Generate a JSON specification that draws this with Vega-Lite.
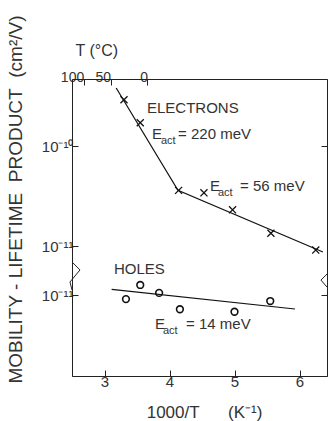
{
  "$schema": "https://vega.github.io/schema/vega-lite/v6.json",
  "width": 255,
  "height": 297,
  "autosize": "none",
  "padding": {"left": 72, "top": 79, "right": 1, "bottom": 45},
  "background": "white",
  "config": {
    "view": {"stroke": null},
    "font": "Liberation Sans",
    "axis": {
      "grid": false,
      "labelFont": "Liberation Sans",
      "titleFont": "Liberation Sans",
      "labelColor": "#333",
      "titleColor": "#333",
      "titleFontWeight": "normal",
      "domainColor": "#222",
      "tickColor": "#222",
      "domainWidth": 1,
      "tickWidth": 1
    }
  },
  "datasets": {
    "electrons": [
      {"x": 3.30, "y": 2.9e-10},
      {"x": 3.55, "y": 1.71e-10},
      {"x": 4.14, "y": 3.6e-11},
      {"x": 4.53, "y": 3.4e-11},
      {"x": 4.97, "y": 2.3e-11},
      {"x": 5.56, "y": 1.34e-11},
      {"x": 6.25, "y": 9.1e-12}
    ],
    "electronFit": [
      {"x": 3.18, "y": 3.8e-10},
      {"x": 4.13, "y": 3.6e-11},
      {"x": 6.36, "y": 8.7e-12}
    ],
    "holes": [
      {"x": 3.33, "y": 9.1e-12},
      {"x": 3.55, "y": 1.26e-11},
      {"x": 3.84, "y": 1.05e-11},
      {"x": 4.16, "y": 7.2e-12},
      {"x": 5.0, "y": 6.8e-12},
      {"x": 5.55, "y": 8.7e-12}
    ],
    "holeFit": [
      {"x": 3.11, "y": 1.14e-11},
      {"x": 5.93, "y": 7.24e-12}
    ],
    "electronLabels": [
      {"text": "ELECTRONS", "x": 3.654, "y": 2.4e-10, "role": "main"},
      {"text": "E", "x": 3.731, "y": 1.32e-10, "role": "main"},
      {"text": "act", "x": 3.869, "y": 1.12e-10, "role": "sub"},
      {"text": "= 220 meV", "x": 4.131, "y": 1.32e-10, "role": "main"},
      {"text": "E", "x": 4.623, "y": 3.98e-11, "role": "main"},
      {"text": "act", "x": 4.746, "y": 3.39e-11, "role": "sub"},
      {"text": "= 56 meV", "x": 5.085, "y": 3.98e-11, "role": "main"}
    ],
    "holeLabels": [
      {"text": "HOLES", "x": 3.146, "y": 1.82e-11, "role": "main"},
      {"text": "E", "x": 3.777, "y": 5.13e-12, "role": "main"},
      {"text": "act", "x": 3.90, "y": 4.37e-12, "role": "sub"},
      {"text": "= 14 meV", "x": 4.254, "y": 5.13e-12, "role": "main"}
    ],
    "breaks": [
      {"side": "left", "seq": 1, "x": 2.5, "y": 2.14e-11},
      {"side": "left", "seq": 2, "x": 2.623, "y": 1.78e-11},
      {"side": "left", "seq": 3, "x": 2.469, "y": 1.35e-11},
      {"side": "left", "seq": 4, "x": 2.5, "y": 1.12e-11},
      {"side": "right", "seq": 1, "x": 6.423, "y": 1.62e-11},
      {"side": "right", "seq": 2, "x": 6.33, "y": 1.41e-11},
      {"side": "right", "seq": 3, "x": 6.423, "y": 1.2e-11}
    ]
  },
  "layer": [
    {
      "layer": [
        {
          "data": {"name": "electronFit"},
          "mark": {"type": "line", "color": "#111", "strokeWidth": 1.2},
          "encoding": {
            "x": {
              "field": "x", "type": "quantitative",
              "scale": {"domain": [2.5, 6.423], "nice": false, "zero": false},
              "axis": {
                "orient": "top",
                "values": [2.68, 3.0945, 3.661],
                "labelExpr": "datum.value < 2.9 ? '100' : (datum.value < 3.4 ? '50' : '0')",
                "tickSize": -6,
                "labelFontSize": 14,
                "labelAlign": "right",
                "labelBaseline": "alphabetic",
                "labelPadding": 4,
                "title": "T (°C)",
                "titleFontSize": 16,
                "titleAlign": "left",
                "titleBaseline": "alphabetic",
                "titleX": 3,
                "titleY": -24
              }
            },
            "y": {
              "field": "y", "type": "quantitative",
              "scale": {"type": "log", "domain": [5.01e-13, 4.68e-10], "nice": false},
              "axis": {
                "orient": "left",
                "values": [1e-10, 1e-11],
                "labelExpr": "datum.value > 5e-11 ? '10⁻¹⁰' : '10⁻¹¹'",
                "tickSize": -6,
                "labelFontSize": 15,
                "labelPadding": 5,
                "title": "MOBILITY - LIFETIME\u00a0 PRODUCT\u00a0 (cm²/V)",
                "titleFontSize": 19,
                "titleAlign": "center",
                "titleBaseline": "alphabetic",
                "titleAngle": 270,
                "titleX": -51,
                "titleY": 120
              }
            }
          }
        },
        {
          "data": {"name": "electrons"},
          "mark": {"type": "point", "shape": "M-1,-1L1,1M-1,1L1,-1", "filled": false, "stroke": "#111", "strokeWidth": 1.3, "size": 50, "opacity": 1},
          "encoding": {
            "x": {"field": "x", "type": "quantitative", "scale": {"domain": [2.5, 6.423], "nice": false, "zero": false}, "axis": null},
            "y": {
              "field": "y", "type": "quantitative",
              "scale": {"type": "log", "domain": [5.01e-13, 4.68e-10], "nice": false},
              "axis": {"orient": "right", "values": [1e-10], "labels": false, "tickSize": -6, "title": null}
            }
          }
        },
        {
          "data": {"name": "electronLabels"},
          "mark": {"type": "text", "align": "left", "baseline": "middle", "color": "#333", "font": "Liberation Sans"},
          "encoding": {
            "x": {"field": "x", "type": "quantitative", "scale": {"domain": [2.5, 6.423], "nice": false, "zero": false}, "axis": null},
            "y": {"field": "y", "type": "quantitative", "scale": {"type": "log", "domain": [5.01e-13, 4.68e-10], "nice": false}, "axis": null},
            "text": {"field": "text"},
            "size": {"field": "role", "type": "nominal", "scale": {"domain": ["main", "sub"], "range": [15, 11]}, "legend": null}
          }
        }
      ],
      "resolve": {"axis": {"x": "independent", "y": "independent"}}
    },
    {
      "layer": [
        {
          "data": {"name": "holeFit"},
          "mark": {"type": "line", "color": "#111", "strokeWidth": 1.2},
          "encoding": {
            "x": {
              "field": "x", "type": "quantitative",
              "scale": {"domain": [2.5, 6.423], "nice": false, "zero": false},
              "axis": {
                "orient": "bottom",
                "values": [3, 4, 5, 6],
                "tickSize": -6,
                "labelFontSize": 15,
                "labelPadding": 4,
                "title": "1000/T\u00a0\u00a0\u00a0\u00a0\u00a0 (K⁻¹)",
                "titleFontSize": 17,
                "titleAlign": "center",
                "titleBaseline": "alphabetic",
                "titleX": 132,
                "titleY": 41
              }
            },
            "y": {
              "field": "y", "type": "quantitative",
              "scale": {"type": "log", "domain": [1.549e-12, 1.445e-9], "nice": false},
              "axis": {
                "orient": "left",
                "values": [1e-11],
                "labelExpr": "'10⁻¹¹'",
                "tickSize": -6,
                "labelFontSize": 15,
                "labelPadding": 5,
                "title": null
              }
            }
          }
        },
        {
          "data": {"name": "holes"},
          "mark": {"type": "point", "shape": "circle", "filled": false, "stroke": "#111", "strokeWidth": 1.6, "size": 45, "opacity": 1},
          "encoding": {
            "x": {"field": "x", "type": "quantitative", "scale": {"domain": [2.5, 6.423], "nice": false, "zero": false}, "axis": null},
            "y": {
              "field": "y", "type": "quantitative",
              "scale": {"type": "log", "domain": [1.549e-12, 1.445e-9], "nice": false},
              "axis": {"orient": "right", "values": [1e-11], "labels": false, "tickSize": -6, "title": null}
            }
          }
        },
        {
          "data": {"name": "holeLabels"},
          "mark": {"type": "text", "align": "left", "baseline": "middle", "color": "#333", "font": "Liberation Sans"},
          "encoding": {
            "x": {"field": "x", "type": "quantitative", "scale": {"domain": [2.5, 6.423], "nice": false, "zero": false}, "axis": null},
            "y": {"field": "y", "type": "quantitative", "scale": {"type": "log", "domain": [1.549e-12, 1.445e-9], "nice": false}, "axis": null},
            "text": {"field": "text"},
            "size": {"field": "role", "type": "nominal", "scale": {"domain": ["main", "sub"], "range": [15, 11]}, "legend": null}
          }
        },
        {
          "data": {"name": "breaks"},
          "mark": {"type": "line", "color": "#222", "strokeWidth": 1, "clip": false},
          "encoding": {
            "x": {"field": "x", "type": "quantitative", "scale": {"domain": [2.5, 6.423], "nice": false, "zero": false}, "axis": null},
            "y": {"field": "y", "type": "quantitative", "scale": {"type": "log", "domain": [1.549e-12, 1.445e-9], "nice": false}, "axis": null},
            "detail": {"field": "side"},
            "order": {"field": "seq"}
          }
        }
      ],
      "resolve": {"axis": {"x": "independent", "y": "independent"}}
    }
  ],
  "resolve": {"scale": {"y": "independent"}, "axis": {"x": "independent", "y": "independent"}}
}
